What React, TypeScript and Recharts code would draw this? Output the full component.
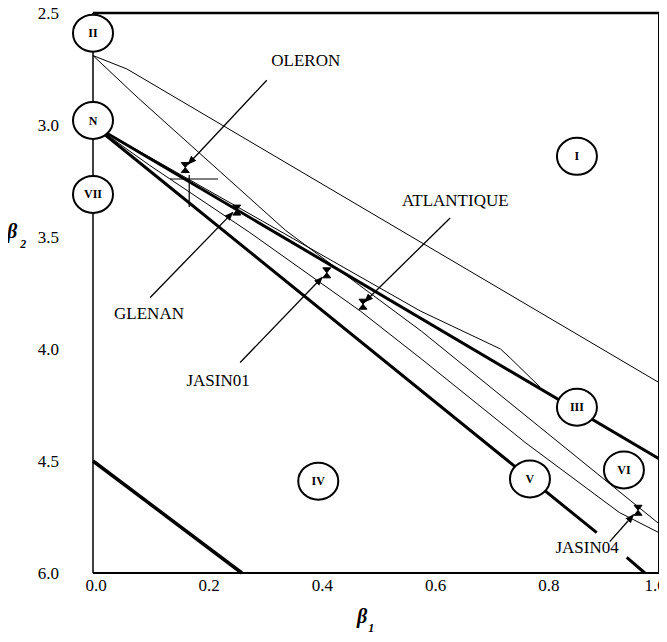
import React from "react";
import { ComposedChart, Line, Scatter, XAxis, YAxis, ReferenceLine } from "recharts";

const X_TICKS = [0, 0.2, 0.4, 0.6, 0.8, 1.0];
const Y_TICKS = [2.5, 3.0, 3.5, 4.0, 4.5, 5.0];
// the scan prints the last tick as 6.0
const Y_TICK_LABELS = ["2.5", "3.0", "3.5", "4.0", "4.5", "6.0"];

// boundary curves in (beta1, beta2)
const UPPER_FROM_II = [
  { b1: 0, b2: 2.69 },
  { b1: 0.06, b2: 2.75 },
  { b1: 1, b2: 4.15 },
];
const STEEP_FROM_II = [
  { b1: 0, b2: 2.69 },
  { b1: 0.08, b2: 2.88 },
  { b1: 0.34, b2: 3.47 },
  { b1: 0.58, b2: 3.92 },
  { b1: 1, b2: 4.78 },
];
const LINE_III = [
  { b1: 0, b2: 3.0 },
  { b1: 1, b2: 4.49 },
];
const LINE_V = [
  { b1: 0, b2: 3.0 },
  { b1: 0.89, b2: 4.82 },
  { b1: 0.915, b2: null },
  { b1: 0.943, b2: 4.93 },
  { b1: 0.975, b2: 5.0 },
];
const WAVY_FROM_N = [
  { b1: 0, b2: 3.0 },
  { b1: 0.1, b2: 3.18 },
  { b1: 0.277, b2: 3.48 },
  { b1: 0.472, b2: 3.83 },
  { b1: 0.583, b2: 4.05 },
  { b1: 0.765, b2: 4.42 },
  { b1: 0.93, b2: 4.73 },
  { b1: 1, b2: 4.82 },
];
const SHORT_FROM_N = [
  { b1: 0, b2: 3.0 },
  { b1: 0.3, b2: 3.43 },
  { b1: 0.578, b2: 3.83 },
  { b1: 0.72, b2: 4.0 },
  { b1: 0.737, b2: 4.04 },
  { b1: 0.79, b2: 4.17 },
];
const LOWER_LEFT = [
  { b1: 0, b2: 4.5 },
  { b1: 0.263, b2: 5.0 },
];

const REGIONS = [
  { id: "II", b1: 0, b2: 2.59 },
  { id: "N", b1: 0, b2: 2.98 },
  { id: "VII", b1: 0, b2: 3.31 },
  { id: "I", b1: 0.855, b2: 3.14 },
  { id: "III", b1: 0.855, b2: 4.26 },
  { id: "IV", b1: 0.398, b2: 4.59 },
  { id: "V", b1: 0.772, b2: 4.58 },
  { id: "VI", b1: 0.938, b2: 4.54 },
];

const SITES = [
  { name: "OLERON", b1: 0.163, b2: 3.19 },
  { name: "GLENAN", b1: 0.254, b2: 3.38 },
  { name: "JASIN01", b1: 0.413, b2: 3.66 },
  { name: "ATLANTIQUE", b1: 0.477, b2: 3.8 },
  { name: "JASIN04", b1: 0.963, b2: 4.72 },
];

const SITE_LABELS = [
  { name: "OLERON", b1: 0.376, b2: 2.71 },
  { name: "GLENAN", b1: 0.099, b2: 3.84 },
  { name: "ATLANTIQUE", b1: 0.64, b2: 3.335 },
  { name: "JASIN01", b1: 0.221, b2: 4.14 },
  { name: "JASIN04", b1: 0.873, b2: 4.884 },
];

const POINTERS = [
  { name: "OLERON", from: [0.307, 2.8], to: [0.168, 3.175] },
  { name: "GLENAN", from: [0.101, 3.77], to: [0.247, 3.39] },
  { name: "ATLANTIQUE", from: [0.631, 3.415], to: [0.48, 3.79] },
  { name: "JASIN01", from: [0.26, 4.06], to: [0.405, 3.68] },
  { name: "JASIN04", from: [0.913, 4.86], to: [0.955, 4.74] },
];

// little cross next to OLERON
const CROSS = [
  { from: [0.136, 3.241], to: [0.221, 3.241] },
  { from: [0.17, 3.223], to: [0.17, 3.366] },
];

const FONT = "'Liberation Serif', 'DejaVu Serif', serif";

function RegionMark(props: any) {
  const { cx, cy, payload } = props;
  return (
    <g>
      <ellipse cx={cx} cy={cy} rx={20} ry={18.5} fill="#fff" stroke="#000" strokeWidth={2} />
      <text x={cx} y={cy} textAnchor="middle" dominantBaseline="central" fontFamily={FONT} fontSize={12} fontWeight="bold">
        {payload.id}
      </text>
    </g>
  );
}

function SiteMark(props: any) {
  const { cx, cy } = props;
  return (
    <path
      d={`M${cx - 4},${cy - 5} L${cx + 4},${cy - 5} L${cx - 4},${cy + 5} L${cx + 4},${cy + 5} Z`}
      fill="#000"
      stroke="#000"
      strokeWidth={1}
    />
  );
}

function SiteLabel(props: any) {
  const { cx, cy, payload } = props;
  return (
    <text x={cx} y={cy} textAnchor="middle" dominantBaseline="central" fontFamily={FONT} fontSize={17}>
      {payload.name}
    </text>
  );
}

function XTick(props: any) {
  const { x, y, payload } = props;
  // keep the last label inside the page
  const tx = Math.min(x + 3, 667 - 12);
  return (
    <text x={tx} y={y + 4} dy="0.71em" textAnchor="middle" fontFamily={FONT} fontSize={17} fill="#000">
      {payload.value.toFixed(1)}
    </text>
  );
}

function XTitle({ viewBox }: any) {
  const x = viewBox.x + viewBox.width / 2 - 19;
  const y = viewBox.y + 50;
  return (
    <text x={x} y={y} fontFamily={FONT} fontSize={20} fontStyle="italic" fontWeight="bold">
      β
      <tspan dx={1} dy={9} fontSize={12} fontStyle="italic">1</tspan>
    </text>
  );
}

function YTitle({ viewBox }: any) {
  const x = viewBox.x + 7;
  const y = viewBox.y + 225;
  return (
    <text x={x} y={y} fontFamily={FONT} fontSize={20} fontStyle="italic" fontWeight="bold">
      β
      <tspan dx={3} dy={10} fontSize={12} fontStyle="italic">2</tspan>
    </text>
  );
}

const tickStyle = { fill: "#000", fontSize: 17, fontFamily: FONT };

export default function App() {
  const curves = [
    { key: "upperII", data: UPPER_FROM_II, w: 1 },
    { key: "steepII", data: STEEP_FROM_II, w: 1 },
    { key: "wavyN", data: WAVY_FROM_N, w: 1 },
    { key: "shortN", data: SHORT_FROM_N, w: 1 },
    { key: "III", data: LINE_III, w: 3 },
    { key: "V", data: LINE_V, w: 3 },
    { key: "lowerLeft", data: LOWER_LEFT, w: 3.5 },
  ];

  return (
    <div style={{ position: "relative", left: -8, top: -8, width: 667, height: 642, background: "#fff" }}>
      <svg width={0} height={0} style={{ position: "absolute" }}>
        <defs>
          <marker id="arrowHead" viewBox="0 0 10 10" refX="9" refY="5" markerWidth="7" markerHeight="7" orient="auto">
            <path d="M0,1 L10,5 L0,9 z" fill="#000" />
          </marker>
        </defs>
      </svg>
      <ComposedChart width={667} height={642} margin={{ top: 13, right: 8, left: 0, bottom: 39 }}>
        <XAxis
          type="number"
          dataKey="b1"
          domain={[0, 1]}
          ticks={X_TICKS}
          interval={0}
          tick={<XTick />}
          tickLine={false}
          tickSize={0}
          axisLine={{ stroke: "#000", strokeWidth: 2 }}
          height={30}
          label={{ content: (p: any) => <XTitle {...p} /> }}
        />
        <YAxis
          type="number"
          dataKey="b2"
          domain={[2.5, 5]}
          reversed
          ticks={Y_TICKS}
          interval={0}
          tickFormatter={(v: number) => Y_TICK_LABELS[Y_TICKS.indexOf(v)] ?? v.toFixed(1)}
          tick={tickStyle}
          tickLine={false}
          tickSize={0}
          tickMargin={34}
          axisLine={{ stroke: "#000", strokeWidth: 1.5 }}
          width={93}
          label={{ content: (p: any) => <YTitle {...p} /> }}
        />
        <ReferenceLine y={2.5} stroke="#000" strokeWidth={2.5} ifOverflow="visible" />
        <ReferenceLine x={1} stroke="#000" strokeWidth={2} ifOverflow="visible" />

        {curves.map((c) => (
          <Line
            key={c.key}
            data={c.data}
            dataKey="b2"
            type="linear"
            stroke="#000"
            strokeWidth={c.w}
            dot={false}
            activeDot={false}
            connectNulls={false}
            isAnimationActive={false}
          />
        ))}

        {CROSS.map((s, i) => (
          <ReferenceLine
            key={"cross" + i}
            segment={[{ x: s.from[0], y: s.from[1] }, { x: s.to[0], y: s.to[1] }]}
            stroke="#000"
            strokeWidth={1.2}
            ifOverflow="visible"
          />
        ))}
        {POINTERS.map((p) => (
          <ReferenceLine
            key={"ptr" + p.name}
            segment={[{ x: p.from[0], y: p.from[1] }, { x: p.to[0], y: p.to[1] }]}
            stroke="#000"
            strokeWidth={1.3}
            markerEnd="url(#arrowHead)"
            ifOverflow="visible"
          />
        ))}

        <Scatter data={SITES} dataKey="b2" shape={(p: any) => <SiteMark {...p} />} isAnimationActive={false} />
        <Scatter data={REGIONS} dataKey="b2" shape={(p: any) => <RegionMark {...p} />} isAnimationActive={false} />
        <Scatter data={SITE_LABELS} dataKey="b2" shape={(p: any) => <SiteLabel {...p} />} isAnimationActive={false} />
      </ComposedChart>
    </div>
  );
}
